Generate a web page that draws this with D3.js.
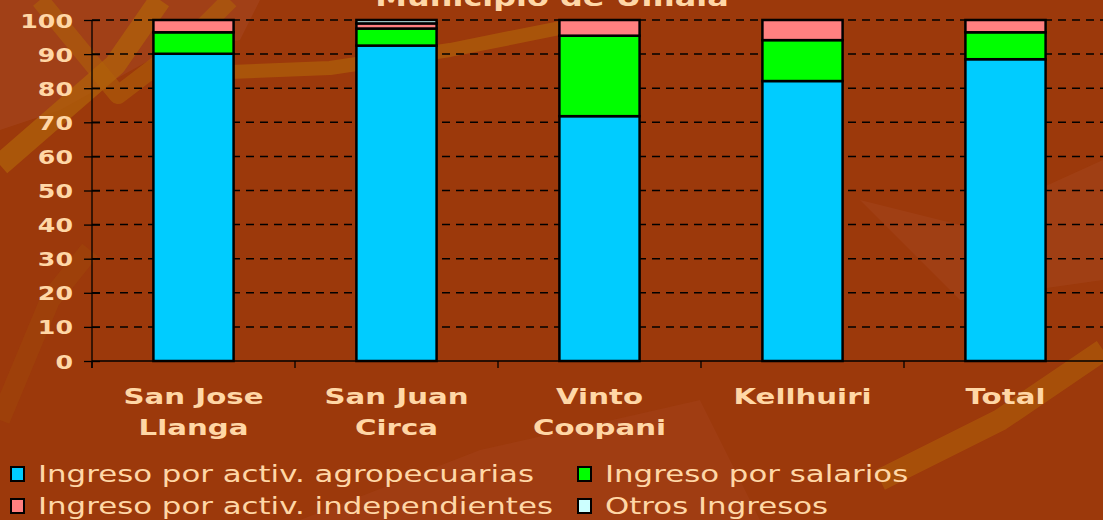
<!DOCTYPE html>
<html><head><meta charset="utf-8">
<script src="https://cdn.jsdelivr.net/npm/d3@7"></script>
<style>html,body{margin:0;padding:0;background:#9e3a0c;overflow:hidden}svg{display:block}</style>
</head><body>
<svg id="c" width="1103" height="520"></svg>
<script>
const title = "Municipio de Umala";
const categories = [["San Jose","Llanga"],["San Juan","Circa"],["Vinto","Coopani"],["Kellhuiri"],["Total"]];
const seriesNames = ["Ingreso por activ. agropecuarias","Ingreso por salarios","Ingreso por activ. independientes","Otros Ingresos"];
const agro   = [90.1, 92.5, 71.8, 82.1, 88.5];
const salar  = [6.3, 5.0, 23.6, 12.0, 7.9];
const indep  = [3.6, 1.5, 4.6, 5.9, 3.6];
const otros  = [0.0, 1.0, 0.0, 0.0, 0.0];
const yTicks = [0,10,20,30,40,50,60,70,80,90,100];
const colors = ["#00ccff","#00ff00","#ff8080","#ccffff"];

const W=1103,H=520, SX=1.33, TXT="#ffd7a6";
const svg=d3.select("#c");

// background texture (decorative streaks)
const bg=svg.append("g");
bg.append("rect").attr("width",W).attr("height",H).attr("fill","#9c390b");
const streak=(pts,w,c,o)=>bg.append("path").attr("d",d3.line()(pts))
  .attr("fill","none").attr("stroke",c).attr("stroke-width",w).attr("stroke-opacity",o).attr("stroke-linejoin","round");
bg.append("path").attr("d","M0,0 L260,0 L240,40 L150,60 L60,110 L0,130 Z").attr("fill","#a2421a").attr("opacity",0.8);
streak([[0,165],[115,65],[160,0]],22,"#b0620a",0.7);
streak([[40,0],[118,95],[190,40],[230,0]],18,"#b0620a",0.55);
streak([[230,72],[330,68],[450,50],[560,28]],14,"#b0620a",0.65);
streak([[0,420],[50,300],[90,250]],20,"#a34a0a",0.4);
bg.append("path").attr("d","M860,200 L960,225 L1103,160 L1103,280 L960,300 Z").attr("fill","#a4441a").attr("opacity",0.6);
streak([[880,480],[1000,420],[1103,350]],22,"#b0620a",0.55);
bg.append("path").attr("d","M300,520 L480,450 L700,400 L760,520 Z").attr("fill","#a3421a").attr("opacity",0.5);

const x0=92, y0=361, yTop=20;
const x=d3.scaleBand().domain(d3.range(categories.length)).range([x0,1107]).padding(0);
const y=d3.scaleLinear().domain([0,100]).range([y0,yTop]);

// grid
const g=svg.append("g");
g.selectAll("line.grid").data(yTicks.filter(t=>t>0)).join("line")
  .attr("x1",x0).attr("x2",W).attr("y1",d=>y(d)).attr("y2",d=>y(d))
  .attr("stroke","#000").attr("stroke-width",1.5).attr("stroke-dasharray","8,6");

// bars
const data=categories.map((c,i)=>({i,vals:[agro[i],salar[i],indep[i],otros[i]]}));
const stackKeys=[0,1,2,3];
const stacked=d3.stack().keys(stackKeys).value((d,k)=>d.vals[k])(data);
const bw=x.bandwidth()*0.395;
stacked.forEach((layer,k)=>{
  g.append("g").selectAll("rect").data(layer.filter(d=>d[1]-d[0]>0)).join("rect")
    .attr("x",d=>x(d.data.i)+x.bandwidth()/2-bw/2)
    .attr("width",bw)
    .attr("y",d=>y(d[1])).attr("height",d=>y(d[0])-y(d[1]))
    .attr("fill",colors[k]).attr("stroke","#000").attr("stroke-width",2.5);
});

// y axis
const ya=svg.append("g").attr("transform",`translate(${x0},0)`)
  .call(d3.axisLeft(y).tickValues(yTicks).tickSize(8).tickSizeOuter(0));
ya.select(".domain").remove();
ya.append("line").attr("x1",0).attr("x2",0).attr("y1",yTop).attr("y2",y0+7).attr("stroke","#000").attr("stroke-width",1.3);
ya.selectAll(".tick line").attr("x2",-8).attr("x1",8).attr("stroke","#000").attr("stroke-width",1.3);
ya.selectAll(".tick text").remove();
ya.selectAll(".tick").append("text")
  .attr("transform",`translate(-19,7) scale(${SX},1)`)
  .attr("text-anchor","end").attr("fill",TXT)
  .style("font-family","DejaVu Sans").style("font-weight","bold").style("font-size","19px")
  .text(d=>d);

// x axis
const xa=svg.append("g");
xa.append("line").attr("x1",x0).attr("x2",W).attr("y1",y0).attr("y2",y0).attr("stroke","#000").attr("stroke-width",1.3);
xa.selectAll("line.tk").data(d3.range(categories.length+1)).join("line")
  .attr("x1",d=>x0+d*x.step()).attr("x2",d=>x0+d*x.step()).attr("y1",y0).attr("y2",y0+7)
  .attr("stroke","#000").attr("stroke-width",1.3);
categories.forEach((lines,i)=>{
  lines.forEach((t,j)=>{
    xa.append("text").attr("transform",`translate(${x(i)+x.bandwidth()/2},${404+j*31}) scale(${SX},1)`)
      .attr("text-anchor","middle").attr("fill",TXT)
      .style("font-family","DejaVu Sans").style("font-weight","bold").style("font-size","22px")
      .text(t);
  });
});

// title (cut off at the top, as in the original slide)
svg.append("text").attr("transform",`translate(552,6) scale(${SX},1)`)
  .attr("text-anchor","middle").attr("fill",TXT)
  .style("font-family","DejaVu Sans").style("font-weight","bold").style("font-size","24px").text(title);

// legend
const legPos=[[10,474],[577,474],[10,506],[577,506]];
const lg=svg.append("g");
seriesNames.forEach((n,k)=>{
  const [lx,ly]=legPos[k];
  lg.append("rect").attr("x",lx+1).attr("y",ly-7).attr("width",13).attr("height",14)
    .attr("fill",colors[k]).attr("stroke","#000").attr("stroke-width",2);
  lg.append("text").attr("transform",`translate(${lx+28},${ly+8}) scale(1.34,1)`)
    .attr("fill",TXT).style("font-family","DejaVu Sans").style("font-size","23px").text(n);
});
</script>
</body></html>
